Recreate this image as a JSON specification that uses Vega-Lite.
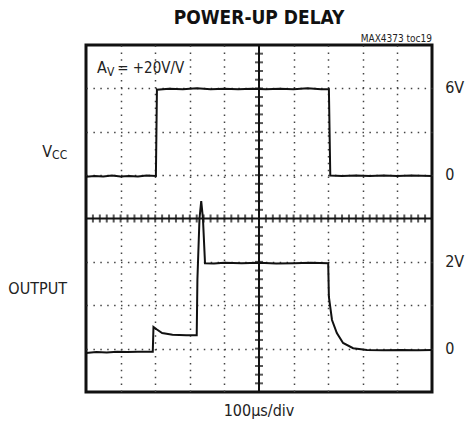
{
  "$schema": "https://vega.github.io/schema/vega-lite/v6.json",
  "width": 346,
  "height": 347,
  "autosize": "none",
  "padding": {"left": 86, "top": 45, "right": 34, "bottom": 30},
  "background": "white",
  "title": {"text": "POWER-UP DELAY", "fontSize": 19, "fontWeight": "bold", "font": "Liberation Sans Narrow, DejaVu Sans Condensed, sans-serif", "color": "#111", "offset": 6, "anchor": "middle"},
  "config": {
    "view": {"stroke": "#111", "strokeWidth": 3},
    "text": {"font": "Liberation Sans Narrow, DejaVu Sans Condensed, sans-serif", "color": "#222"}
  },
  "datasets": {
    "traces": [
      {"s": "vcc", "t": 0.0, "v": 4.96}, {"s": "vcc", "t": 0.25, "v": 4.98}, {"s": "vcc", "t": 0.5, "v": 4.97}, {"s": "vcc", "t": 0.75, "v": 4.99}, {"s": "vcc", "t": 1.0, "v": 4.97}, {"s": "vcc", "t": 1.25, "v": 4.98}, {"s": "vcc", "t": 1.5, "v": 4.97}, {"s": "vcc", "t": 1.75, "v": 4.99}, {"s": "vcc", "t": 2.02, "v": 4.98},
      {"s": "vcc", "t": 2.05, "v": 6.97}, {"s": "vcc", "t": 2.4, "v": 6.99}, {"s": "vcc", "t": 2.8, "v": 6.98}, {"s": "vcc", "t": 3.2, "v": 7.0}, {"s": "vcc", "t": 3.6, "v": 6.98}, {"s": "vcc", "t": 4.0, "v": 6.99}, {"s": "vcc", "t": 4.4, "v": 6.98}, {"s": "vcc", "t": 4.8, "v": 6.99}, {"s": "vcc", "t": 5.2, "v": 6.98}, {"s": "vcc", "t": 5.6, "v": 6.99}, {"s": "vcc", "t": 6.0, "v": 6.98}, {"s": "vcc", "t": 6.4, "v": 7.0}, {"s": "vcc", "t": 6.8, "v": 6.98}, {"s": "vcc", "t": 7.02, "v": 6.98},
      {"s": "vcc", "t": 7.06, "v": 4.99}, {"s": "vcc", "t": 7.4, "v": 4.98}, {"s": "vcc", "t": 7.8, "v": 4.99}, {"s": "vcc", "t": 8.2, "v": 4.98}, {"s": "vcc", "t": 8.6, "v": 4.99}, {"s": "vcc", "t": 9.0, "v": 4.98}, {"s": "vcc", "t": 9.4, "v": 4.99}, {"s": "vcc", "t": 10.0, "v": 4.98},
      {"s": "out", "t": 0.0, "v": 0.9}, {"s": "out", "t": 0.3, "v": 0.92}, {"s": "out", "t": 0.6, "v": 0.91}, {"s": "out", "t": 0.9, "v": 0.93}, {"s": "out", "t": 1.2, "v": 0.92}, {"s": "out", "t": 1.5, "v": 0.93}, {"s": "out", "t": 1.93, "v": 0.93},
      {"s": "out", "t": 1.95, "v": 1.5}, {"s": "out", "t": 2.05, "v": 1.44}, {"s": "out", "t": 2.2, "v": 1.36}, {"s": "out", "t": 2.5, "v": 1.32}, {"s": "out", "t": 2.9, "v": 1.31}, {"s": "out", "t": 3.2, "v": 1.31},
      {"s": "out", "t": 3.22, "v": 2.6}, {"s": "out", "t": 3.28, "v": 4.0}, {"s": "out", "t": 3.33, "v": 4.4}, {"s": "out", "t": 3.38, "v": 4.0}, {"s": "out", "t": 3.44, "v": 2.97},
      {"s": "out", "t": 3.7, "v": 2.96}, {"s": "out", "t": 4.0, "v": 2.98}, {"s": "out", "t": 4.5, "v": 2.97}, {"s": "out", "t": 5.0, "v": 2.98}, {"s": "out", "t": 5.5, "v": 2.96}, {"s": "out", "t": 6.0, "v": 2.97}, {"s": "out", "t": 6.5, "v": 2.98}, {"s": "out", "t": 7.0, "v": 2.97},
      {"s": "out", "t": 7.02, "v": 2.19}, {"s": "out", "t": 7.11, "v": 1.66}, {"s": "out", "t": 7.25, "v": 1.36}, {"s": "out", "t": 7.43, "v": 1.13}, {"s": "out", "t": 7.72, "v": 1.01}, {"s": "out", "t": 8.12, "v": 0.97}, {"s": "out", "t": 8.6, "v": 0.96}, {"s": "out", "t": 9.1, "v": 0.97}, {"s": "out", "t": 9.6, "v": 0.96}, {"s": "out", "t": 10.0, "v": 0.97}
    ],
    "xticks": [
      {"p": 0.2}, {"p": 0.4}, {"p": 0.6}, {"p": 0.8}, {"p": 1.0}, {"p": 1.2}, {"p": 1.4}, {"p": 1.6}, {"p": 1.8}, {"p": 2.0},
      {"p": 2.2}, {"p": 2.4}, {"p": 2.6}, {"p": 2.8}, {"p": 3.0}, {"p": 3.2}, {"p": 3.4}, {"p": 3.6}, {"p": 3.8}, {"p": 4.0},
      {"p": 4.2}, {"p": 4.4}, {"p": 4.6}, {"p": 4.8}, {"p": 5.2}, {"p": 5.4}, {"p": 5.6}, {"p": 5.8}, {"p": 6.0},
      {"p": 6.2}, {"p": 6.4}, {"p": 6.6}, {"p": 6.8}, {"p": 7.0}, {"p": 7.2}, {"p": 7.4}, {"p": 7.6}, {"p": 7.8}, {"p": 8.0},
      {"p": 8.2}, {"p": 8.4}, {"p": 8.6}, {"p": 8.8}, {"p": 9.0}, {"p": 9.2}, {"p": 9.4}, {"p": 9.6}, {"p": 9.8}
    ],
    "yticks": [
      {"p": 0.2}, {"p": 0.4}, {"p": 0.6}, {"p": 0.8}, {"p": 1.0}, {"p": 1.2}, {"p": 1.4}, {"p": 1.6}, {"p": 1.8}, {"p": 2.0},
      {"p": 2.2}, {"p": 2.4}, {"p": 2.6}, {"p": 2.8}, {"p": 3.0}, {"p": 3.2}, {"p": 3.4}, {"p": 3.6}, {"p": 3.8},
      {"p": 4.2}, {"p": 4.4}, {"p": 4.6}, {"p": 4.8}, {"p": 5.0}, {"p": 5.2}, {"p": 5.4}, {"p": 5.6}, {"p": 5.8}, {"p": 6.0},
      {"p": 6.2}, {"p": 6.4}, {"p": 6.6}, {"p": 6.8}, {"p": 7.0}, {"p": 7.2}, {"p": 7.4}, {"p": 7.6}, {"p": 7.8}
    ],
    "rightLabels": [
      {"x": 10.38, "y": 7, "txt": "6V"},
      {"x": 10.38, "y": 5, "txt": "0"},
      {"x": 10.38, "y": 3, "txt": "2V"},
      {"x": 10.38, "y": 1, "txt": "0"}
    ],
    "leftBig": [
      {"x": 0.32, "y": 7.35, "txt": "A"}
    ],
    "leftMid": [
      {"x": 0.9, "y": 7.35, "txt": "= +20V/V"}
    ],
    "leftSmall": [
      {"x": -0.98, "y": 5.37, "txt": "CC"},
      {"x": 0.61, "y": 7.28, "txt": "V"}
    ],
    "rightBig": [
      {"x": -0.98, "y": 5.41, "txt": "V"},
      {"x": -0.55, "y": 2.26, "txt": "OUTPUT"}
    ],
    "note": [
      {"x": 10, "y": 8.06, "txt": "MAX4373 toc19"}
    ],
    "xlab": [
      {"x": 5, "y": -0.43, "txt": "100µs/div"}
    ]
  },
  "layer": [
    {
      "data": {"name": "traces"},
      "mark": {"type": "line", "color": "#111", "strokeWidth": 2, "interpolate": "linear"},
      "encoding": {
        "x": {"field": "t", "type": "quantitative", "scale": {"domain": [0, 10], "nice": false, "zero": false},
          "axis": {"values": [1, 2, 3, 4, 6, 7, 8, 9], "labels": false, "ticks": false, "domain": false, "title": null, "grid": true, "gridColor": "#444", "gridDash": [1.5, 5.4], "gridWidth": 1.5}},
        "y": {"field": "v", "type": "quantitative", "scale": {"domain": [0, 8], "nice": false, "zero": false},
          "axis": {"values": [1, 2, 3, 5, 6, 7], "labels": false, "ticks": false, "domain": false, "title": null, "grid": true, "gridColor": "#444", "gridDash": [1.5, 5.4], "gridWidth": 1.5}},
        "detail": {"field": "s", "type": "nominal"}
      }
    },
    {
      "data": {"values": [{"c": 5}]},
      "mark": {"type": "rule", "color": "#111", "strokeWidth": 2},
      "encoding": {"x": {"field": "c", "type": "quantitative"}}
    },
    {
      "data": {"values": [{"c": 4}]},
      "mark": {"type": "rule", "color": "#111", "strokeWidth": 2},
      "encoding": {"y": {"field": "c", "type": "quantitative"}}
    },
    {
      "data": {"name": "xticks"},
      "mark": {"type": "tick", "orient": "vertical", "color": "#111", "thickness": 2, "size": 8},
      "encoding": {"x": {"field": "p", "type": "quantitative"}, "y": {"datum": 4, "type": "quantitative"}}
    },
    {
      "data": {"name": "yticks"},
      "mark": {"type": "tick", "orient": "horizontal", "color": "#111", "thickness": 2, "size": 8},
      "encoding": {"y": {"field": "p", "type": "quantitative"}, "x": {"datum": 5, "type": "quantitative"}}
    },
    {
      "data": {"name": "rightLabels"},
      "mark": {"type": "text", "align": "left", "baseline": "middle", "fontSize": 16},
      "encoding": {"x": {"field": "x", "type": "quantitative"}, "y": {"field": "y", "type": "quantitative"}, "text": {"field": "txt"}}
    },
    {
      "data": {"name": "leftBig"},
      "mark": {"type": "text", "align": "left", "baseline": "alphabetic", "fontSize": 16},
      "encoding": {"x": {"field": "x", "type": "quantitative"}, "y": {"field": "y", "type": "quantitative"}, "text": {"field": "txt"}}
    },
    {
      "data": {"name": "leftMid"},
      "mark": {"type": "text", "align": "left", "baseline": "alphabetic", "fontSize": 15},
      "encoding": {"x": {"field": "x", "type": "quantitative"}, "y": {"field": "y", "type": "quantitative"}, "text": {"field": "txt"}}
    },
    {
      "data": {"name": "leftSmall"},
      "mark": {"type": "text", "align": "left", "baseline": "alphabetic", "fontSize": 12},
      "encoding": {"x": {"field": "x", "type": "quantitative"}, "y": {"field": "y", "type": "quantitative"}, "text": {"field": "txt"}}
    },
    {
      "data": {"name": "rightBig"},
      "mark": {"type": "text", "align": "right", "baseline": "alphabetic", "fontSize": 16},
      "encoding": {"x": {"field": "x", "type": "quantitative"}, "y": {"field": "y", "type": "quantitative"}, "text": {"field": "txt"}}
    },
    {
      "data": {"name": "note"},
      "mark": {"type": "text", "align": "right", "baseline": "alphabetic", "fontSize": 10},
      "encoding": {"x": {"field": "x", "type": "quantitative"}, "y": {"field": "y", "type": "quantitative"}, "text": {"field": "txt"}}
    },
    {
      "data": {"name": "xlab"},
      "mark": {"type": "text", "align": "center", "baseline": "middle", "fontSize": 16},
      "encoding": {"x": {"field": "x", "type": "quantitative"}, "y": {"field": "y", "type": "quantitative"}, "text": {"field": "txt"}}
    }
  ]
}
